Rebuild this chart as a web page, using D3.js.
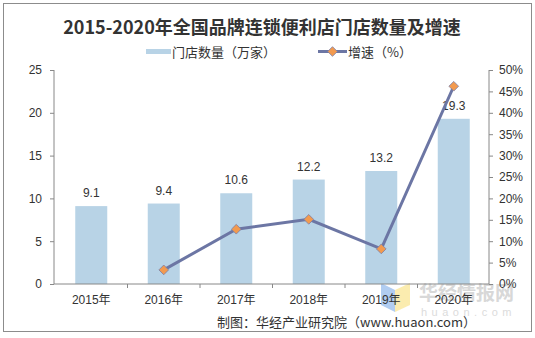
<!DOCTYPE html>
<html>
<head>
<meta charset="utf-8">
<script src="https://cdn.jsdelivr.net/npm/d3@7"></script>
<style>
  body { margin: 0; background: #fff; }
  svg { display: block; }
</style>
</head>
<body>
<div id="chart"></div>
<script>
// 数据
const years = ['2015年', '2016年', '2017年', '2018年', '2019年', '2020年']
const storeCount = [9.1, 9.4, 10.6, 12.2, 13.2, 19.3]
const growthRate = [null, 3.3, 12.8, 15.1, 8.2, 46.2]
const leftTicks = [0, 5, 10, 15, 20, 25]
const rightTicks = [0, 5, 10, 15, 20, 25, 30, 35, 40, 45, 50]

const width = 535
const height = 338
const margin = { top: 70, right: 46, bottom: 54, left: 54 }
const font = "'Liberation Sans', Arial, 'Noto Sans CJK SC', sans-serif"
const cjkFont = "'Noto Sans CJK SC', sans-serif"

const svg = d3.select('#chart')
  .append('svg')
  .attr('width', width)
  .attr('height', height)

// 外边框
svg.append('rect')
  .attr('x', 3.5).attr('y', 3.5)
  .attr('width', 528).attr('height', 328)
  .attr('fill', '#fff')
  .attr('stroke', '#8c8c8c')

const x = d3.scaleBand()
  .domain(years)
  .range([margin.left + 1, width - margin.right + 1])

const y = d3.scaleLinear()
  .domain([0, 25])
  .range([height - margin.bottom, margin.top])

const y2 = d3.scaleLinear()
  .domain([0, 50])
  .range([height - margin.bottom, margin.top])

const cx = d => x(d) + x.bandwidth() / 2

// 水印
const wm = svg.append('g')
wm.append('path')
  .attr('d', 'M381,283 L395,290 L395,312 L381,305 Z')
  .attr('fill', '#a9c8f0').attr('opacity', 0.9)
wm.append('path')
  .attr('d', 'M395,290 L410,283 L410,305 L395,312 Z')
  .attr('fill', '#fbeaa6').attr('opacity', 0.9)
wm.append('text')
  .attr('x', 419).attr('y', 300)
  .attr('font-family', cjkFont)
  .attr('font-weight', 'bold')
  .attr('font-size', 19)
  .attr('fill', '#d8d8d8')
  .text('华经情报网')
wm.append('text')
  .attr('x', 421).attr('y', 316)
  .attr('font-family', font)
  .attr('font-size', 11)
  .attr('letter-spacing', 4.5)
  .attr('fill', '#dcdcdc')
  .text('huaon.com')

// 柱形
svg.append('g')
  .selectAll('rect')
  .data(storeCount)
  .join('rect')
  .attr('x', (d, i) => cx(years[i]) - 16)
  .attr('width', 32)
  .attr('y', d => y(d))
  .attr('height', d => y(0) - y(d))
  .attr('fill', '#b8d3e6')

// 柱形数值标签
svg.append('g')
  .selectAll('text')
  .data(storeCount)
  .join('text')
  .attr('x', (d, i) => cx(years[i]))
  .attr('y', d => y(d) - 9)
  .attr('text-anchor', 'middle')
  .attr('font-family', font)
  .attr('font-size', 12)
  .attr('fill', '#333')
  .text(d => d.toFixed(1))

// 左轴
const leftAxis = svg.append('g')
  .attr('transform', `translate(${margin.left},0)`)
  .call(d3.axisLeft(y).tickValues(leftTicks).tickSize(4).tickPadding(8))
leftAxis.select('.domain').attr('stroke', '#888').attr('d', `M0,${y(25)}V${y(0)}`)
leftAxis.selectAll('.tick line').attr('stroke', '#888')
leftAxis.selectAll('text').attr('font-family', font).attr('font-size', 12).attr('fill', '#333')

// 右轴
const rightAxis = svg.append('g')
  .attr('transform', `translate(${width - margin.right},0)`)
  .call(d3.axisRight(y2).tickValues(rightTicks).tickSize(4).tickPadding(6).tickFormat(d => d + '%'))
rightAxis.select('.domain').attr('stroke', '#888').attr('d', `M0,${y2(50)}V${y2(0)}`)
rightAxis.selectAll('.tick line').attr('stroke', '#888')
rightAxis.selectAll('text').attr('font-family', font).attr('font-size', 12).attr('fill', '#333')

// 底轴
const bottom = svg.append('g')
  .attr('transform', `translate(0,${y(0)})`)
bottom.append('line')
  .attr('x1', margin.left).attr('x2', width - margin.right)
  .attr('stroke', '#888')
bottom.selectAll('line.sep')
  .data(years.slice(1))
  .join('line')
  .attr('class', 'sep')
  .attr('x1', d => x(d)).attr('x2', d => x(d))
  .attr('y1', 0).attr('y2', 4)
  .attr('stroke', '#888')
bottom.selectAll('text')
  .data(years)
  .join('text')
  .attr('x', d => cx(d))
  .attr('y', 20)
  .attr('text-anchor', 'middle')
  .attr('font-family', font)
  .attr('font-size', 12)
  .attr('fill', '#333')
  .text(d => d)

// 增速折线
const linePts = growthRate
  .map((v, i) => ({ year: years[i], v }))
  .filter(d => d.v !== null)

const line = d3.line()
  .x(d => cx(d.year))
  .y(d => y2(d.v))

svg.append('path')
  .datum(linePts)
  .attr('d', line)
  .attr('fill', 'none')
  .attr('stroke', '#6c76a4')
  .attr('stroke-width', 3)

const diamond = d3.symbol().type(d3.symbolDiamond2).size(60)
svg.append('g')
  .selectAll('path')
  .data(linePts)
  .join('path')
  .attr('d', diamond)
  .attr('transform', d => `translate(${cx(d.year)},${y2(d.v)})`)
  .attr('fill', '#f29a4f')
  .attr('stroke', '#7a7fa8')
  .attr('stroke-width', 0.8)

// 标题
svg.append('text')
  .attr('x', 262).attr('y', 34)
  .attr('text-anchor', 'middle')
  .attr('font-family', cjkFont)
  .attr('font-weight', 'bold')
  .attr('font-size', 18)
  .attr('fill', '#333')
  .text('2015-2020年全国品牌连锁便利店门店数量及增速')

// 图例
const legend = svg.append('g').attr('font-family', cjkFont).attr('font-size', 13).attr('fill', '#333')
legend.append('rect')
  .attr('x', 146).attr('y', 49)
  .attr('width', 25).attr('height', 5)
  .attr('fill', '#b8d3e6')
legend.append('text')
  .attr('x', 172).attr('y', 57)
  .text('门店数量（万家）')
legend.append('line')
  .attr('x1', 318).attr('x2', 347)
  .attr('y1', 51.5).attr('y2', 51.5)
  .attr('stroke', '#6c76a4').attr('stroke-width', 3)
legend.append('path')
  .attr('d', diamond)
  .attr('transform', 'translate(332.5,51.5)')
  .attr('fill', '#f29a4f')
  .attr('stroke', '#7a7fa8')
  .attr('stroke-width', 0.8)
legend.append('text')
  .attr('x', 348).attr('y', 57)
  .text('增速（%）')

// 来源
svg.append('text')
  .attr('x', 476).attr('y', 327)
  .attr('text-anchor', 'end')
  .attr('font-family', cjkFont)
  .attr('font-size', 13)
  .attr('fill', '#333')
  .text('制图：华经产业研究院（www.huaon.com）')
</script>
</body>
</html>
